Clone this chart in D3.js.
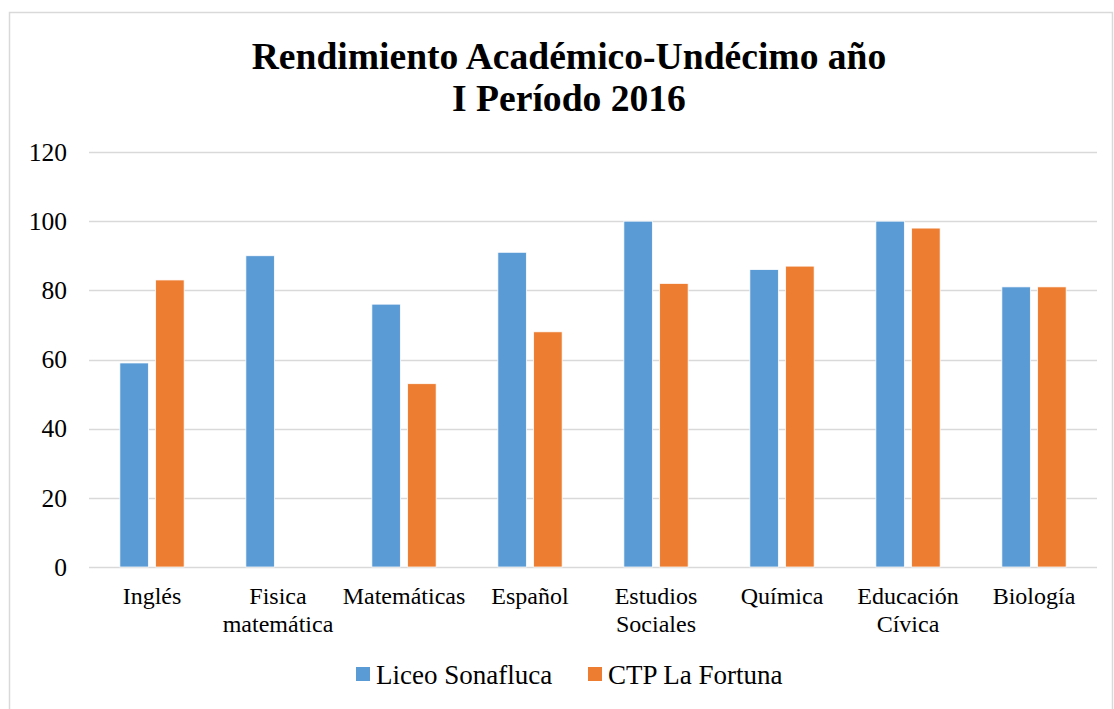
<!DOCTYPE html>
<html>
<head>
<meta charset="utf-8">
<script src="https://cdn.jsdelivr.net/npm/d3@7"></script>
<style>
  body { margin: 0; background: #fff; }
  svg { display: block; font-family: "Liberation Serif", "Times New Roman", serif; }
</style>
</head>
<body>
<div id="chart"></div>
<script>
// chart data
const categories = [
  ["Inglés"],
  ["Fisica", "matemática"],
  ["Matemáticas"],
  ["Español"],
  ["Estudios", "Sociales"],
  ["Química"],
  ["Educación", "Cívica"],
  ["Biología"]
];
const seriesNames = ["Liceo Sonafluca", "CTP La Fortuna"];
const liceoValues = [59, 90, 76, 91, 100, 86, 100, 81];
const ctpValues = [83, null, 53, 68, 82, 87, 98, 81];
const yTicks = [0, 20, 40, 60, 80, 100, 120];

const width = 1114, height = 709;
const colors = ["#5B9BD5", "#ED7D31"];
const margin = { left: 89, right: 17, top: 152, bottom: 142 };

const svg = d3.select("#chart").append("svg")
  .attr("width", width)
  .attr("height", height);

// outer chart border
svg.append("rect")
  .attr("x", 9.5).attr("y", 12.5)
  .attr("width", 1103).attr("height", 710)
  .attr("fill", "none")
  .attr("stroke", "#D9D9D9")
  .attr("stroke-width", 1.5);

// title
const title = svg.append("text")
  .attr("text-anchor", "middle")
  .attr("font-weight", "bold")
  .attr("font-size", 37.6)
  .attr("fill", "#000");
title.append("tspan").attr("x", 569).attr("y", 69).text("Rendimiento Académico-Undécimo año");
title.append("tspan").attr("x", 569).attr("y", 111).text("I Período 2016");

const x = d3.scaleBand()
  .domain(d3.range(categories.length))
  .range([margin.left, width - margin.right]);

const y = d3.scaleLinear()
  .domain([0, 120])
  .range([height - margin.bottom, margin.top]);

// gridlines
svg.append("g")
  .selectAll("line")
  .data(yTicks)
  .join("line")
  .attr("x1", margin.left).attr("x2", width - margin.right)
  .attr("y1", d => Math.round(y(d)) + 0.5)
  .attr("y2", d => Math.round(y(d)) + 0.5)
  .attr("stroke", "#D9D9D9")
  .attr("stroke-width", 1.5);

// y labels
svg.append("g")
  .selectAll("text")
  .data(yTicks)
  .join("text")
  .attr("x", 67)
  .attr("y", d => y(d))
  .attr("dy", "0.34em")
  .attr("text-anchor", "end")
  .attr("font-size", 25.5)
  .attr("fill", "#000")
  .text(d => d);

// bars
const bw = x.bandwidth();
const barW = bw * 0.226;
const gap = bw * 0.058;
const x1 = d3.scaleOrdinal().domain([0, 1])
  .range([bw / 2 - gap / 2 - barW, bw / 2 + gap / 2]);

[liceoValues, ctpValues].forEach((vals, s) => {
  svg.append("g")
    .selectAll("rect")
    .data(vals.map((v, i) => ({ v, i })).filter(d => d.v != null))
    .join("rect")
    .attr("x", d => x(d.i) + x1(s))
    .attr("y", d => y(d.v))
    .attr("width", barW)
    .attr("height", d => y(0) - y(d.v))
    .attr("fill", colors[s])
    .attr("stroke", "#fff")
    .attr("stroke-width", 0.75);
});

// category labels
const cat = svg.append("g")
  .selectAll("text")
  .data(categories)
  .join("text")
  .attr("text-anchor", "middle")
  .attr("font-size", 24)
  .attr("fill", "#000");
cat.each(function(lines, i) {
  d3.select(this).selectAll("tspan")
    .data(lines)
    .join("tspan")
    .attr("x", x(i) + bw / 2)
    .attr("y", (d, j) => 604 + j * 28)
    .text(d => d);
});

// legend
const legendItems = [{ x: 356, name: seriesNames[0] }, { x: 588, name: seriesNames[1] }];
const lg = svg.append("g");
legendItems.forEach((d, i) => {
  lg.append("rect")
    .attr("x", d.x).attr("y", 667)
    .attr("width", 14).attr("height", 14)
    .attr("fill", colors[i]);
  lg.append("text")
    .attr("x", d.x + 20).attr("y", 684)
    .attr("font-size", 27)
    .attr("fill", "#000")
    .text(d.name);
});
</script>
</body>
</html>
